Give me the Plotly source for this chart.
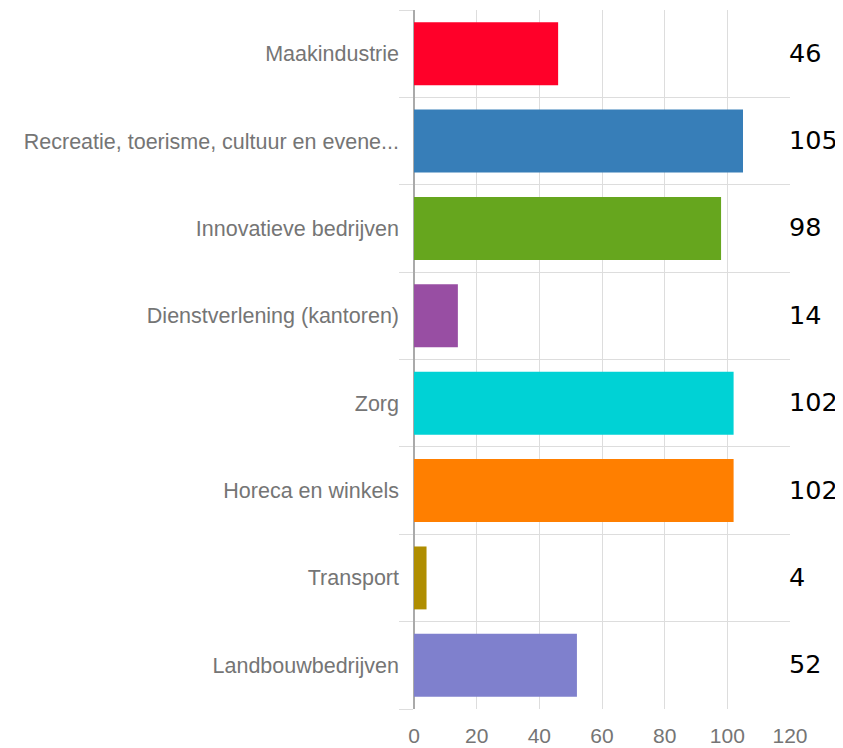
import plotly.graph_objects as go

categories = ["Maakindustrie", "Recreatie, toerisme, cultuur en evene...", "Innovatieve bedrijven",
              "Dienstverlening (kantoren)", "Zorg", "Horeca en winkels", "Transport", "Landbouwbedrijven"]
values = [46, 105, 98, 14, 102, 102, 4, 52]
colors = ["#ff0029", "#377eb8", "#66a61e", "#984ea3", "#00d2d5", "#ff7f00", "#af8d00", "#7f80cd"]
x_ticks = [0, 20, 40, 60, 80, 100, 120]

pos = list(range(len(categories)))

fig = go.Figure(go.Bar(
    x=values, y=pos, orientation="h",
    marker=dict(color=colors, line=dict(width=0)),
    width=0.72, hoverinfo="x+y",
))

for p, v in zip(pos, values):
    fig.add_annotation(x=120, y=p, xref="x", yref="y", text=str(v), showarrow=False,
                       xanchor="left", yanchor="middle", xshift=-3, yshift=1,
                       font=dict(family="DejaVu Sans", size=25.5, color="#000000"))

fig.update_layout(
    width=843, height=748,
    margin=dict(l=406, r=61, t=2, b=47),
    plot_bgcolor="white", paper_bgcolor="white",
    showlegend=False,
    font=dict(family="Liberation Sans, Arial", size=21, color="#757575"),
    xaxis=dict(range=[0, 120], tickvals=x_ticks, showgrid=True, gridcolor="#dddddd", gridwidth=1,
               zeroline=True, zerolinecolor="#aaaaaa", zerolinewidth=1.5,
               ticklabelstandoff=12,
               tickfont=dict(size=21, color="#757575"), fixedrange=True, showline=False),
    yaxis=dict(range=[7.5, -0.5], tickvals=pos, ticktext=categories, showgrid=False,
               zeroline=False, ticks="", ticklabelstandoff=14,
               tickfont=dict(size=21.5, color="#757575"),
               minor=dict(tickvals=[i - 0.5 for i in range(len(categories) + 1)], showgrid=True,
                          gridcolor="#dddddd", gridwidth=1, ticks="outside", ticklen=14,
                          tickcolor="#dddddd"),
               fixedrange=True),
)

fig.write_html("out.html")
